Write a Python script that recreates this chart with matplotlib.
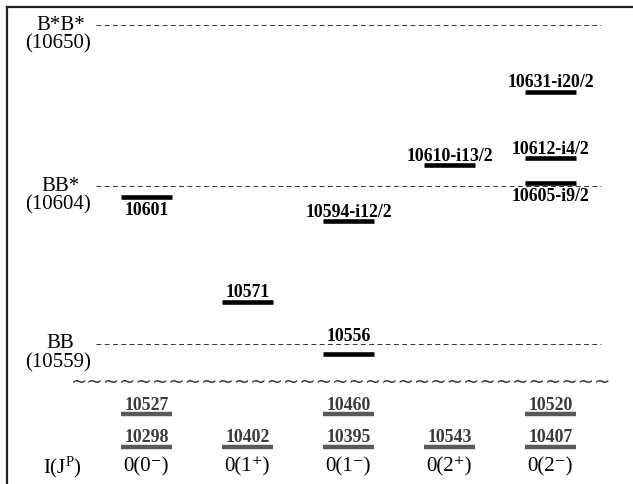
import matplotlib
matplotlib.use("Agg")
import matplotlib.pyplot as plt
import matplotlib.transforms as mtransforms

plt.rcParams['font.family'] = ['Liberation Serif', 'DejaVu Serif']
plt.rcParams['mathtext.fontset'] = 'custom'
plt.rcParams['mathtext.rm'] = 'Liberation Serif'
plt.rcParams['mathtext.it'] = 'Liberation Serif:italic'
plt.rcParams['mathtext.bf'] = 'Liberation Serif:bold'

# ---- data ----
columns = ["0(0⁻)", "0(1⁺)", "0(1⁻)", "0(2⁺)", "0(2⁻)"]
row_label = r"I(J$^{\mathrm{P}}$)"

threshold_names = ["B*B*", "BB*", "BB"]
threshold_values = [10650, 10604, 10559]

upper_col = [0, 1, 2, 2, 3, 4, 4, 4]
upper_mass = [10601, 10571, 10594, 10556, 10610, 10631, 10612, 10605]
upper_gamma = [0, 0, 12, 0, 13, 20, 4, 9]          # width shown as -i(Gamma)/2
upper_place = ["below", "above", "above", "far", "above", "above", "above", "below"]

lower_col = [0, 2, 4, 0, 1, 2, 3, 4]
lower_mass = [10527, 10460, 10520, 10298, 10402, 10395, 10543, 10407]
lower_row = [0, 0, 0, 1, 1, 1, 1, 1]

# ---- figure ----
W, H = 633, 484
fig = plt.figure(figsize=(W / 100, H / 100), dpi=100)
ax = fig.add_axes([7 / W, 0, (W - 7) / W, (H - 7) / H])
ax.set_xlim(-1.381, 4.817)
ax.set_ylim(10519.04, 10655.14)
for s in ["right", "bottom"]:
    ax.spines[s].set_visible(False)
for s in ["left", "top"]:
    ax.spines[s].set_linewidth(1.6)
    ax.spines[s].set_color("#222222")
ax.set_xticks([])
ax.set_yticks([])

blend = mtransforms.blended_transform_factory(ax.transData, ax.transAxes)

# thresholds
for name, val in zip(threshold_names, threshold_values):
    ax.plot([-0.5, 4.5], [val, val], color="#333333", lw=0.7,
            linestyle=(0, (5, 3.5)))
    ax.annotate(name, (-0.85, val), ha="center", va="center", fontsize=15)
    ax.annotate(f"({val})", (-0.88, val), xytext=(0, -13.3), textcoords="offset points",
                ha="center", va="center", fontsize=15)

half = 0.25
offsets = {"above": 3.2, "far": 10, "below": -13}
for c, m, g, p in zip(upper_col, upper_mass, upper_gamma, upper_place):
    ax.plot([c - half, c + half], [m, m], color="black", lw=3.3, solid_capstyle="butt")
    lab = f"{m}" if g == 0 else f"{m}-i{g}/2"
    ax.annotate(lab, (c, m), xytext=(0, offsets[p]), textcoords="offset points",
                ha="center", va="baseline", fontsize=12.8, fontweight="bold")

row_y = [0.1468, 0.0786]
for c, m, r in zip(lower_col, lower_mass, lower_row):
    y = row_y[r]
    ax.plot([c - half, c + half], [y, y], color="#595959", lw=3.2,
            solid_capstyle="butt", transform=blend)
    ax.annotate(f"{m}", (c, y), xycoords=blend, xytext=(0, 3), textcoords="offset points",
                ha="center", va="baseline", fontsize=12.8, fontweight="bold", color="#3a3a3a")

# broken-axis wavy line
ax.text(1.926, 0.2138, "~" * 33, transform=blend, ha="center", va="center",
        fontsize=14, family="DejaVu Sans", color="#333333")

# column labels
for i, lab in enumerate(columns):
    ax.text(i, 0.0356, lab, transform=blend, ha="center", va="center", fontsize=15)
ax.text(-0.83, 0.0356, row_label, transform=blend, ha="center", va="center", fontsize=15)

fig.savefig("out.png", dpi=100)
